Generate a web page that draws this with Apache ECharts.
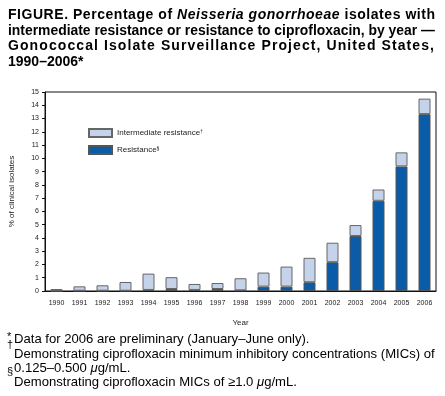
<!DOCTYPE html>
<html>
<head>
<meta charset="utf-8">
<script src="https://cdn.jsdelivr.net/npm/echarts@6/dist/echarts.min.js"></script>
<style>
  html, body { margin: 0; padding: 0; background: #fff; }
  #main { width: 445px; height: 396px; }
</style>
</head>
<body>
<div id="main"></div>
<script>
// data
var years = ['1990', '1991', '1992', '1993', '1994', '1995', '1996', '1997', '1998',
  '1999', '2000', '2001', '2002', '2003', '2004', '2005', '2006'];
var resistance = [0, 0.02, 0.02, 0.02, 0.08, 0.15, 0.08, 0.15, 0.05, 0.33, 0.33, 0.66, 2.17, 4.14, 6.8, 9.39, 13.33];
var intermediate = [0.15, 0.33, 0.41, 0.66, 1.23, 0.89, 0.45, 0.45, 0.91, 1.06, 1.51, 1.84, 1.47, 0.83, 0.85, 1.06, 1.17];
var yTicks = { min: 0, max: 15, interval: 1 };

var myChart = echarts.init(document.getElementById('main'));
var FONT = 'Liberation Sans, Arial, sans-serif';

// the title is justified (letter spaced) in the original; lay the letters out by hand
var measureCtx = document.createElement('canvas').getContext('2d');
function fontStr(size, italic) {
  return (italic ? 'italic ' : '') + 'bold ' + size + 'px "Liberation Sans", Arial, sans-serif';
}
function justifyLine(segs, x0, x1, top, size) {
  var chars = [];
  segs.forEach(function (s) {
    for (var k = 0; k < s[0].length; k++) chars.push({ ch: s[0][k], italic: !!s[1] });
  });
  var total = 0;
  chars.forEach(function (c) {
    measureCtx.font = fontStr(size, c.italic);
    c.w = measureCtx.measureText(c.ch).width;
    total += c.w;
  });
  var extra = x1 > 0 ? (x1 - x0 - total) / (chars.length - 1) : 0;
  var x = x0;
  var out = [];
  chars.forEach(function (c) {
    if (c.ch !== ' ') {
      out.push({
        type: 'text', x: x, y: top, silent: true,
        style: { text: c.ch, font: fontStr(size, c.italic), fill: '#000', textVerticalAlign: 'top', verticalAlign: 'top' }
      });
    }
    x += c.w + extra;
  });
  return out;
}

var graphics = [].concat(
  justifyLine([['FIGURE. Percentage of '], ['Neisseria gonorrhoeae', 1], [' isolates with']], 8, 435, 8, 14),
  justifyLine([['intermediate resistance or resistance to ciprofloxacin, by year \u2014']], 8, 0, 24, 13.9),
  justifyLine([['Gonococcal Isolate Surveillance Project, United States,']], 8, 434, 39.5, 14),
  justifyLine([['1990\u20132006*']], 8, 0, 55, 14)
);

var foot = {
  fontFamily: FONT, fontSize: 13.1, fontWeight: 'normal', color: '#000',
  rich: {
    i: { fontFamily: FONT, fontSize: 13.1, fontWeight: 'normal', fontStyle: 'italic', color: '#000' }
  }
};
var footLines = [
  ['Data for 2006 are preliminary (January\u2013June only).', 333],
  ['Demonstrating ciprofloxacin minimum inhibitory concentrations (MICs) of', 347.5],
  ['0.125\u20130.500 {i|\u03bc}g/mL.', 362],
  ['Demonstrating ciprofloxacin MICs of \u22651.0 {i|\u03bc}g/mL.', 376]
];
var footMarks = [['*', 331], ['\u2020', 339], ['\u00a7', 366]];
var titles = [];
footLines.forEach(function (f) {
  titles.push({ text: f[0], left: 14, top: f[1], padding: 0, textStyle: foot });
});
footMarks.forEach(function (m) {
  titles.push({ text: m[0], left: 7, top: m[1], padding: 0,
    textStyle: { fontFamily: FONT, fontSize: 11, fontWeight: 'normal', color: '#000' } });
});

const option = {
  animation: false,
  title: titles,
  graphic: graphics,
  legend: {
    orient: 'vertical',
    left: 83,
    top: 123,
    itemWidth: 23,
    itemHeight: 8,
    itemGap: 7,
    icon: 'rect',
    data: ['Intermediate resistance', 'Resistance'],
    formatter: function (name) {
      return name + (name === 'Resistance' ? '{s|\u00a7}' : '{s|\u2020}');
    },
    textStyle: {
      fontFamily: FONT, fontSize: 8, color: '#222',
      rich: { s: { fontFamily: FONT, fontSize: 5, color: '#222', verticalAlign: 'top' } }
    }
  },
  grid: { left: 42, right: 9, top: 92, bottom: 105, show: true, borderColor: '#111', borderWidth: 1 },
  xAxis: {
    type: 'category',
    data: years,
    name: 'Year',
    nameLocation: 'middle',
    nameGap: 28,
    nameTextStyle: { fontFamily: FONT, fontSize: 8, color: '#222' },
    axisLine: { lineStyle: { color: '#111', width: 1 } },
    axisTick: { alignWithLabel: true, length: 3, lineStyle: { color: '#111' } },
    axisLabel: { fontFamily: FONT, fontSize: 7, color: '#222', margin: 9, interval: 0 }
  },
  yAxis: {
    type: 'value',
    min: yTicks.min,
    max: yTicks.max,
    interval: yTicks.interval,
    name: '% of clinical isolates',
    nameLocation: 'middle',
    nameGap: 29,
    nameTextStyle: { fontFamily: FONT, fontSize: 8, color: '#222' },
    axisLine: { show: true, lineStyle: { color: '#111', width: 1 } },
    axisTick: { show: true, length: 3, lineStyle: { color: '#111' } },
    axisLabel: { fontFamily: FONT, fontSize: 7, color: '#222', margin: 6 },
    splitLine: { show: false }
  },
  series: [
    {
      name: 'Resistance',
      type: 'bar',
      stack: 'total',
      barWidth: 12,
      data: resistance,
      itemStyle: { color: '#0a5ca8', borderColor: '#555', borderWidth: 1 }
    },
    {
      name: 'Intermediate resistance',
      type: 'bar',
      stack: 'total',
      barWidth: 12,
      data: intermediate,
      itemStyle: { color: '#c5d3ea', borderColor: '#666', borderWidth: 1 }
    }
  ]
};
myChart.setOption(option);
</script>
</body>
</html>
